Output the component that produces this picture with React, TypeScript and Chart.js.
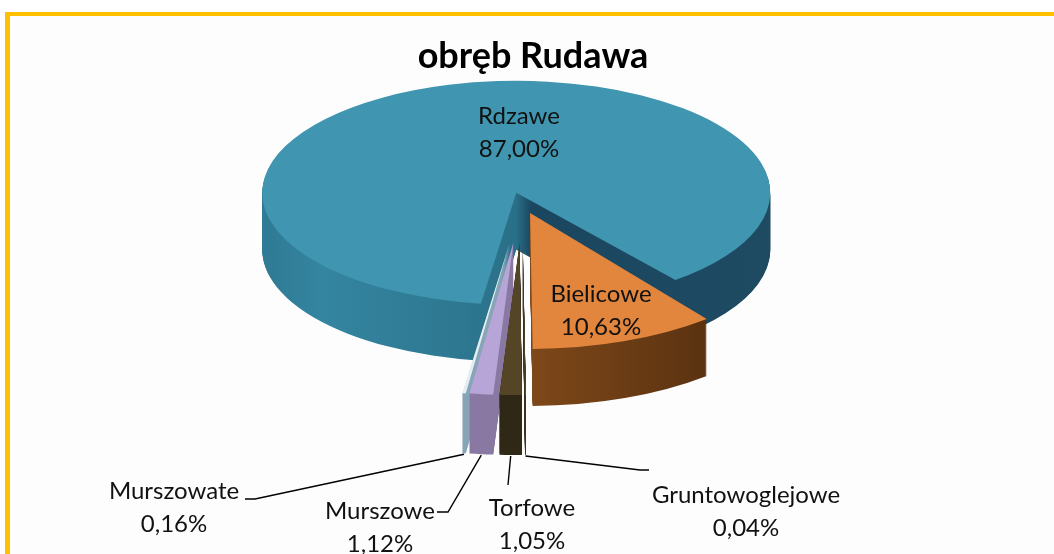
import React, { useEffect, useRef } from 'react';
import { Chart, registerables } from 'chart.js';

Chart.register(...registerables);

// ---------- data ----------
const TITLE = 'obręb Rudawa';
const CATEGORIES = ['Rdzawe', 'Bielicowe', 'Gruntowoglejowe', 'Torfowe', 'Murszowe', 'Murszowate'];
const VALUES = [87.0, 10.63, 0.04, 1.05, 1.12, 0.16];

// ---------- styles ----------
const TOP_COLORS = ['#4096B0', '#E2863E', '#5A4E2E', '#544526', '#B6A5D6', '#E6EDF3'];
const SIDE_STOPS: [number, string][][] = [
  [[0, '#2F7A94'], [0.12, '#3485A0'], [0.4, '#2E7790'], [0.5, '#2A6F88'], [0.53, '#1A4660'], [1, '#1E4A62']],
  [[0, '#8A531F'], [0.5, '#7E4819'], [0.8, '#5C3311'], [1, '#5C3311']],
  [[0, '#3A3320'], [1, '#3A3320']],
  [[0, '#2F2817'], [1, '#2F2817']],
  [[0, '#8878A2'], [1, '#8878A2']],
  [[0, '#86A6B8'], [1, '#86A6B8']],
];
const SLICE_GEOM = [
  { rx: 254, ry: 112, explode: 0.085 },
  { rx: 282, ry: 136, explode: 0.085 },
  { rx: 340, ry: 152, explode: 0.27 },
  { rx: 340, ry: 152, explode: 0.27 },
  { rx: 340, ry: 152, explode: 0.27 },
  { rx: 340, ry: 152, explode: 0.27 },
];
const DEPTH = [57, 57, 60, 60, 60, 60];
const PIE_CENTER = { x: 522, y: 202 };
const ROTATION = 188;
const DRAW_ORDER = [0, 1, 5, 4, 3, 2];

const FONT_FAMILY = 'Lato, "Noto Sans", sans-serif';
const LABEL_FONT_SIZE = 24;
const LINE_GAP = 33;
const TITLE_POS = { x: 533, baseline: 68 };
const TITLE_FONT = `bold 36px ${FONT_FAMILY}`;

type LabelLayout = { x: number; baseline: number; leader?: [number, number][] };
const LABEL_LAYOUT: LabelLayout[] = [
  { x: 519, baseline: 124 },
  { x: 601, baseline: 302 },
  { x: 746, baseline: 503, leader: [[640, 470], [649, 470]] },
  { x: 532, baseline: 516, leader: [[508, 485]] },
  { x: 380, baseline: 519, leader: [[448, 512], [437, 512]] },
  { x: 174, baseline: 499, leader: [[255, 499], [245, 499]] },
];

const fmtPct = (v: number) => v.toFixed(2).replace('.', ',') + '%';

function applySliceTransform(ctx: CanvasRenderingContext2D, arc: any, i: number, t: number) {
  const g = SLICE_GEOM[i];
  const R = arc.outerRadius;
  const mid = (arc.startAngle + arc.endAngle) / 2;
  ctx.translate(PIE_CENTER.x, PIE_CENTER.y + t);
  ctx.scale(g.rx / R, g.ry / R);
  ctx.translate(Math.cos(mid) * g.explode * R, Math.sin(mid) * g.explode * R);
  ctx.translate(-arc.x, -arc.y);
}

function paintArc(arc: any, ctx: CanvasRenderingContext2D, fill: any) {
  const proxy = Object.create(arc);
  proxy.options = Object.assign({}, arc.options, { backgroundColor: fill, borderWidth: 0, offset: 0, spacing: 0 });
  arc.draw.call(proxy, ctx);
}

const pie3dPlugin = {
  id: 'pie3d',
  beforeDatasetDraw(chart: any, args: any) {
    const ctx: CanvasRenderingContext2D = chart.ctx;
    const arcs = args.meta.data;
    for (const i of DRAW_ORDER) {
      const arc = arcs[i];
      if (!arc) continue;
      const R = arc.outerRadius;
      const grad = ctx.createLinearGradient(arc.x - R, 0, arc.x + R, 0);
      for (const [o, c] of SIDE_STOPS[i]) grad.addColorStop(o, c);
      for (let t = DEPTH[i]; t >= 1; t--) {
        ctx.save();
        applySliceTransform(ctx, arc, i, t);
        paintArc(arc, ctx, grad);
        ctx.restore();
      }
      ctx.save();
      applySliceTransform(ctx, arc, i, 0);
      paintArc(arc, ctx, TOP_COLORS[i]);
      ctx.restore();
    }
    return false;
  },
  afterDatasetsDraw(chart: any) {
    const ctx: CanvasRenderingContext2D = chart.ctx;
    const arcs = chart.getDatasetMeta(0).data;
    ctx.save();
    // title
    ctx.font = TITLE_FONT;
    ctx.fillStyle = '#000';
    ctx.textAlign = 'center';
    ctx.textBaseline = 'alphabetic';
    ctx.fillText(TITLE, TITLE_POS.x, TITLE_POS.baseline);

    // leader lines
    ctx.strokeStyle = '#000';
    ctx.lineWidth = 1.4;
    LABEL_LAYOUT.forEach((lay, i) => {
      if (!lay.leader || !arcs[i]) return;
      const arc = arcs[i];
      const g = SLICE_GEOM[i];
      const mid = (arc.startAngle + arc.endAngle) / 2;
      const sx = PIE_CENTER.x + (1 + g.explode) * g.rx * Math.cos(mid);
      const sy = PIE_CENTER.y + (1 + g.explode) * g.ry * Math.sin(mid) + DEPTH[i] + 1;
      ctx.beginPath();
      ctx.moveTo(sx, sy);
      for (const [x, y] of lay.leader) ctx.lineTo(x, y);
      ctx.stroke();
    });

    // labels
    ctx.font = `${LABEL_FONT_SIZE}px ${FONT_FAMILY}`;
    ctx.fillStyle = '#111';
    LABEL_LAYOUT.forEach((lay, i) => {
      ctx.fillText(CATEGORIES[i], lay.x, lay.baseline);
      ctx.fillText(fmtPct(VALUES[i]), lay.x, lay.baseline + LINE_GAP);
    });
    ctx.restore();
  },
};

export default function App() {
  const canvasRef = useRef<HTMLCanvasElement | null>(null);

  useEffect(() => {
    if (!canvasRef.current) return;
    const chart = new Chart(canvasRef.current, {
      type: 'pie',
      data: {
        labels: CATEGORIES,
        datasets: [
          {
            data: VALUES,
            backgroundColor: TOP_COLORS,
            borderWidth: 0,
            rotation: ROTATION,
          } as any,
        ],
      },
      options: {
        responsive: false,
        animation: false,
        events: [],
        rotation: ROTATION,
        layout: { padding: { top: 80, left: 12, right: 0, bottom: 0 } },
        plugins: {
          legend: { display: false },
          tooltip: { enabled: false },
          title: { display: false },
        },
      } as any,
      plugins: [pie3dPlugin as any],
    });
    return () => chart.destroy();
  }, []);

  return (
    <div style={{ position: 'fixed', left: 0, top: 0, width: 1054, height: 554, overflow: 'hidden', background: '#ffffff' }}>
      <div
        style={{
          position: 'absolute',
          left: 5,
          top: 12,
          width: 1200,
          height: 700,
          borderLeft: '5px solid #FFC000',
          borderTop: '4px solid #FFC000',
          background: '#FDFDFD',
          boxSizing: 'border-box',
        }}
      />
      <canvas ref={canvasRef} width={1054} height={554} style={{ position: 'absolute', left: 0, top: 0 }} />
    </div>
  );
}
